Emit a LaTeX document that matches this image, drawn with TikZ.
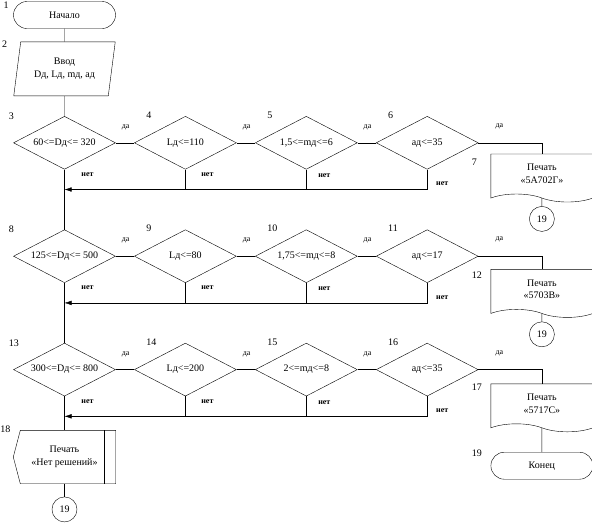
\documentclass[tikz,border=0pt]{standalone}
\usepackage{fontspec}
\setmainfont{Liberation Serif}
\usetikzlibrary{positioning, calc, shapes.geometric, shapes.misc, shapes.symbols, arrows.meta}

\begin{document}
\begin{tikzpicture}[x=1pt, y=-1pt, font=\fontsize{10}{12.5}\selectfont,
    every node/.style={inner sep=0pt},
    node distance=18.5pt,
    >={Latex[length=7pt,width=4.5pt]},
    term/.style={draw, rounded rectangle, minimum width=102pt, minimum height=27pt},
    inbox/.style={draw, trapezium, trapezium left angle=77, trapezium right angle=103,
        trapezium stretches=true, minimum width=102pt, minimum height=54pt, align=center},
    test/.style={draw, diamond, aspect=1.9, minimum width=102pt, minimum height=53pt},
    print/.style={draw, tape, tape bend top=none, tape bend bottom=out and in,
        tape bend height=8pt, minimum width=102pt, minimum height=48pt, align=center},
    outbox/.style={minimum width=102pt, minimum height=53pt, align=center},
    conn/.style={draw, circle, minimum size=25pt},
    num/.style={anchor=west},
    yes/.style={font=\fontsize{8}{9}\selectfont},
    no/.style={font=\fontsize{8}{9}\selectfont\bfseries}]
    \useasboundingbox (0,0) rectangle (592,528);

    \node[term] (start) at (64.5,15) {Начало};
    \node[inbox] (input) [below=13pt of start] {Ввод\\Dд, Lд, mд, ад};

    \node[test] (d3) [below=20pt of input] {60<=Dд<= 320};
    \node[test] (d4) [right=of d3] {Lд<=110};
    \node[test] (d5) [right=of d4] {1,5<=mд<=6};
    \node[test] (d6) [right=of d5] {ад<=35};

    \node[test] (d8) [below=60pt of d3] {125<=Dд<= 500};
    \node[test] (d9) [right=of d8] {Lд<=80};
    \node[test] (d10) [right=of d9] {1,75<=mд<=8};
    \node[test] (d11) [right=of d10] {ад<=17};

    \node[test] (d13) [below=60pt of d8] {300<=Dд<= 800};
    \node[test] (d14) [right=of d13] {Lд<=200};
    \node[test] (d15) [right=of d14] {2<=mд<=8};
    \node[test] (d16) [right=of d15] {ад<=35};

    \node[print, anchor=north] (p7) at ($(d6.east)+(63.5,11)$) {Печать\\«5А702Г»};
    \node[conn] (c7) [below=12pt of p7] {19};
    \node[print, anchor=north] (p12) at ($(d11.east)+(63.5,13)$) {Печать\\«5703В»};
    \node[conn] (c12) [below=12pt of p12] {19};
    \node[print, anchor=north] (p17) at ($(d16.east)+(63.5,14)$) {Печать\\«5717С»};
    \node[term] (finish) [below=28pt of p17] {Конец};

    \node[outbox] (p18) [below=34pt of d13] {Печать\\«Нет решений»};
    \node[conn] (c18) [below=13pt of p18] {19};
    \draw ([xshift=7pt]p18.north west) -- (p18.north east) -- (p18.south east)
        -- ([xshift=7pt]p18.south west) -- (p18.west) -- cycle;
    \draw ([xshift=-12pt]p18.north east) -- ([xshift=-12pt]p18.south east);

    % numbers
    \node[num] (k1) at ($(start.west |- start.north)+(-10,4)$) {1};
    \node[num] (k2) at ($(input.bottom left corner |- input.north)+(-11.5,2)$) {2};
    \node[num] (k3) at ($(d3.west |- d3.north)+(-4.5,0)$) {3};
    \node[num] (k4) at ($(d4.west |- d4.north)+(12,-1)$) {4};
    \node[num] (k5) at ($(d5.west |- d5.north)+(12,-1)$) {5};
    \node[num] (k6) at ($(d6.west |- d6.north)+(12,-1)$) {6};
    \node[num] (k7) at ($(p7.west |- p7.north)+(-19,8)$) {7};
    \node[num] (k8) at ($(d8.west |- d8.north)+(-4.5,0)$) {8};
    \node[num] (k9) at ($(d9.west |- d9.north)+(12,-1)$) {9};
    \node[num] (k10) at ($(d10.west |- d10.north)+(12,-1)$) {10};
    \node[num] (k11) at ($(d11.west |- d11.north)+(12,-1)$) {11};
    \node[num] (k12) at ($(p12.west |- p12.north)+(-19,6)$) {12};
    \node[num] (k13) at ($(d13.west |- d13.north)+(-4.5,0)$) {13};
    \node[num] (k14) at ($(d14.west |- d14.north)+(12,-1)$) {14};
    \node[num] (k15) at ($(d15.west |- d15.north)+(12,-1)$) {15};
    \node[num] (k16) at ($(d16.west |- d16.north)+(12,-1)$) {16};
    \node[num] (k17) at ($(p17.west |- p17.north)+(-19,4)$) {17};
    \node[num] (k18) at ($(p18.north west)+(-13,-1)$) {18};
    \node[num] (k19) at ($(finish.west |- finish.north)+(-19,1)$) {19};

    % yes / no
    \node[yes] (y3) at ($(d3.east)+(10,-15.5)$) {да};
    \node[yes] (y4) at ($(d4.east)+(10,-15.5)$) {да};
    \node[yes] (y5) at ($(d5.east)+(10,-15.5)$) {да};
    \node[yes] (y6) at ($(d6.east)+(21,-16.5)$) {да};
    \node[yes] (y8) at ($(d8.east)+(10,-15.5)$) {да};
    \node[yes] (y9) at ($(d9.east)+(10,-15.5)$) {да};
    \node[yes] (y10) at ($(d10.east)+(10,-15.5)$) {да};
    \node[yes] (y11) at ($(d11.east)+(21,-16.5)$) {да};
    \node[yes] (y13) at ($(d13.east)+(10,-15.5)$) {да};
    \node[yes] (y14) at ($(d14.east)+(10,-15.5)$) {да};
    \node[yes] (y15) at ($(d15.east)+(10,-15.5)$) {да};
    \node[yes] (y16) at ($(d16.east)+(21,-16.5)$) {да};
    \node[no] (n3) at ($(d3.south)+(23,5)$) {нет};
    \node[no] (n4) at ($(d4.south)+(22,5)$) {нет};
    \node[no] (n5) at ($(d5.south)+(18,6)$) {нет};
    \node[no] (n6) at ($(d6.south)+(15,14.5)$) {нет};
    \node[no] (n8) at ($(d8.south)+(23,5)$) {нет};
    \node[no] (n9) at ($(d9.south)+(22,5)$) {нет};
    \node[no] (n10) at ($(d10.south)+(18,6)$) {нет};
    \node[no] (n11) at ($(d11.south)+(15,14.5)$) {нет};
    \node[no] (n13) at ($(d13.south)+(23,5)$) {нет};
    \node[no] (n14) at ($(d14.south)+(22,5)$) {нет};
    \node[no] (n15) at ($(d15.south)+(18,6)$) {нет};
    \node[no] (n16) at ($(d16.south)+(15,14.5)$) {нет};

    % return points
    \coordinate (r3) at ([yshift=-20pt]d3.south);
    \coordinate (r8) at ([yshift=-20pt]d8.south);
    \coordinate (r13) at ([yshift=-20pt]d13.south);

    \draw
        (start) edge (input)
        (input) edge (d3)
        (d3) edge (d4) (d4) edge (d5) (d5) edge (d6)
        (d8) edge (d9) (d9) edge (d10) (d10) edge (d11)
        (d13) edge (d14) (d14) edge (d15) (d15) edge (d16)
        (d3) edge (d8) (d8) edge (d13) (d13) edge (p18)
        (p18) edge (c18)
        (p7) edge (c7) (p12) edge (c12) (p17) edge (finish);
    \draw (d6) -| (p7);
    \draw (d11) -| (p12);
    \draw (d16) -| (p17);

    \draw[->] (d6.south) |- (r3);
    \draw (d4.south) -- (d4.south |- r3) (d5.south) -- (d5.south |- r3);
    \draw[->] (d11.south) |- (r8);
    \draw (d9.south) -- (d9.south |- r8) (d10.south) -- (d10.south |- r8);
    \draw[->] (d16.south) |- (r13);
    \draw (d14.south) -- (d14.south |- r13) (d15.south) -- (d15.south |- r13);
\end{tikzpicture}
\end{document}
